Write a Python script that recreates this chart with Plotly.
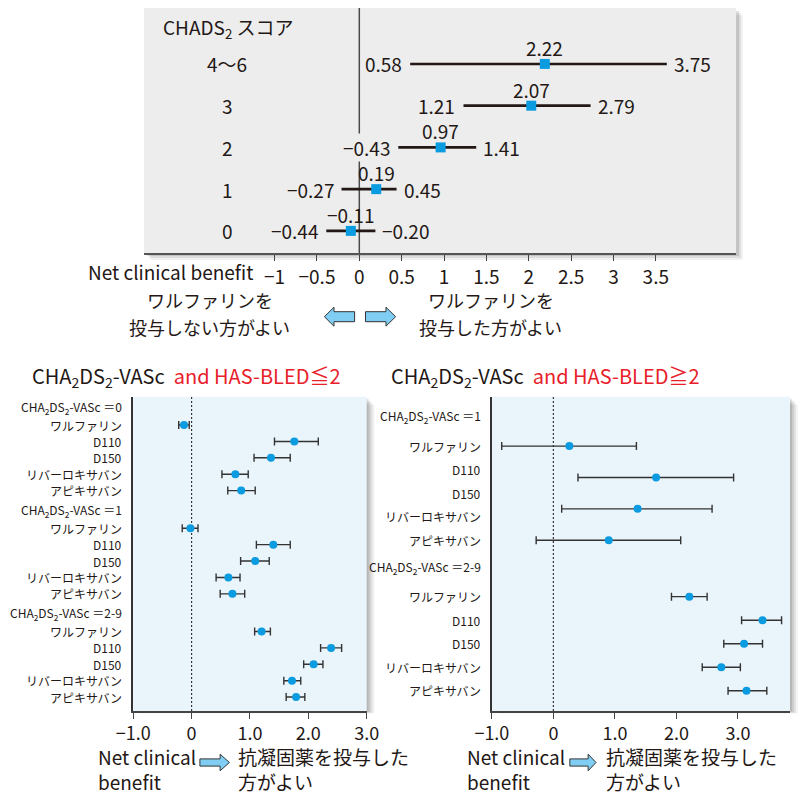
import plotly.graph_objects as go
import numpy as np

W, H = 803, 796
FONT = "Liberation Sans Narrow, Noto Sans CJK JP, sans-serif"
JFONT = "Noto Sans CJK JP, sans-serif"
DARK = "#231815"
RED = "#e8202a"
BLUE = "#0a9be0"

# ---------------- data: top panel (CHADS2 score) ----------------
chads_scores = ["4〜6", "3", "2", "1", "0"]
chads_point = [2.19, 2.03, 0.96, 0.20, -0.10]
chads_low = [0.60, 1.23, 0.46, -0.21, -0.39]
chads_high = [3.63, 2.73, 1.38, 0.44, 0.19]
chads_point_text = ["2.22", "2.07", "0.97", "0.19", "−0.11"]
chads_low_text = ["0.58", "1.21", "−0.43", "−0.27", "−0.44"]
chads_high_text = ["3.75", "2.79", "1.41", "0.45", "−0.20"]
top_tickvals = [-1, -0.5, 0, 0.5, 1, 1.5, 2, 2.5, 3, 3.5]
top_ticktext = ["−1", "−0.5", "0", "0.5", "1", "1.5", "2", "2.5", "3", "3.5"]

# ---------------- data: bottom panels ----------------
drugs = ["ワルファリン", "D110", "D150", "リバーロキサバン", "アピキサバン"]
left_groups = ["CHA<sub>2</sub>DS<sub>2</sub>-VASc ＝0",
               "CHA<sub>2</sub>DS<sub>2</sub>-VASc ＝1",
               "CHA<sub>2</sub>DS<sub>2</sub>-VASc ＝2-9"]
left_point = [[-0.13, 1.76, 1.36, 0.75, 0.85],
              [-0.02, 1.40, 1.09, 0.63, 0.70],
              [1.20, 2.39, 2.09, 1.72, 1.79]]
left_low = [[-0.22, 1.42, 1.07, 0.52, 0.62],
            [-0.16, 1.11, 0.84, 0.42, 0.49],
            [1.08, 2.21, 1.92, 1.58, 1.62]]
left_high = [[-0.04, 2.17, 1.69, 0.97, 1.09],
             [0.11, 1.69, 1.33, 0.83, 0.91],
             [1.35, 2.57, 2.25, 1.87, 1.94]]

right_groups = ["CHA<sub>2</sub>DS<sub>2</sub>-VASc ＝1",
                "CHA<sub>2</sub>DS<sub>2</sub>-VASc ＝2-9"]
right_point = [[0.26, 1.67, 1.37, 0.90],
               [2.21, 3.40, 3.10, 2.73, 3.14]]
right_low = [[-0.84, 0.40, 0.135, -0.28],
             [1.92, 3.06, 2.77, 2.42, 2.84]]
right_high = [[1.35, 2.93, 2.58, 2.07],
              [2.50, 3.71, 3.40, 3.04, 3.47]]

bottom_tickvals = [-1, 0, 1, 2, 3]
bottom_ticktext = ["−1.0", "0", "1.0", "2.0", "3.0"]


def px(x):
    return x / W


def py(y):
    return 1 - y / H


fig = go.Figure()
shapes = []
annotations = []

# ================= TOP PANEL =================
top_rows = list(range(len(chads_scores)))
fig.add_trace(go.Scatter(
    x=[v for lo, hi in zip(chads_low, chads_high) for v in (lo, hi, None)],
    y=[v for r in top_rows for v in (r, r, None)],
    mode="lines", line=dict(color=DARK, width=2.6),
    xaxis="x", yaxis="y", showlegend=False, hoverinfo="skip"))
fig.add_trace(go.Scatter(
    x=chads_point, y=top_rows, mode="markers",
    marker=dict(symbol="square", size=10, color=BLUE),
    xaxis="x", yaxis="y", showlegend=False))

# gray box background + shadow
for off, op in [(7, 0.06), (5, 0.08), (3, 0.12)]:
    shapes.append(dict(type="rect", xref="paper", yref="paper",
                       x0=px(132 + off), x1=px(747 + off), y0=py(253 + off), y1=py(8 + off),
                       fillcolor=f"rgba(0,0,0,{op})", line=dict(width=0), layer="below"))
shapes.append(dict(type="rect", xref="x domain", yref="y domain", x0=0, x1=1, y0=0, y1=1,
                   fillcolor="#ededed", line=dict(width=0), layer="below"))
shapes.append(dict(type="line", xref="x", yref="y domain", x0=0, x1=0, y0=0, y1=1,
                   line=dict(color="#4a4a4a", width=1.5), layer="below"))

for r, lab in zip(top_rows, chads_scores):
    annotations.append(dict(xref="x", yref="y", x=-1.56, y=r, text=lab, showarrow=False,
                            xanchor="center", yanchor="middle",
                            font=dict(family=FONT, size=19, color=DARK)))
annotations.append(dict(xref="paper", yref="paper", x=px(150), y=py(28),
                        text="CHADS<sub>2</sub> スコア", showarrow=False,
                        xanchor="left", yanchor="middle",
                        font=dict(family=FONT, size=19, color=DARK)))
for r in top_rows:
    annotations.append(dict(xref="x", yref="y", x=chads_low[r], y=r, text=chads_low_text[r],
                            showarrow=False, xanchor="right", yanchor="middle", xshift=-7,
                            bgcolor="#ededed", borderpad=0,
                            font=dict(family=FONT, size=19, color=DARK)))
    annotations.append(dict(xref="x", yref="y", x=chads_high[r], y=r, text=chads_high_text[r],
                            showarrow=False, xanchor="left", yanchor="middle", xshift=6,
                            bgcolor="#ededed", borderpad=0,
                            font=dict(family=FONT, size=19, color=DARK)))
    annotations.append(dict(xref="x", yref="y", x=chads_point[r], y=r, text=chads_point_text[r],
                            showarrow=False, xanchor="center", yanchor="bottom", yshift=1,
                            font=dict(family=FONT, size=19, color=DARK)))

annotations.append(dict(xref="paper", yref="paper", x=px(72), y=py(272), text="Net clinical benefit",
                        showarrow=False, xanchor="left", yanchor="middle",
                        font=dict(family=FONT, size=19, color=DARK)))
for xc, lines in [(200, ["ワルファリンを", "投与しない方がよい"]),
                  (492, ["ワルファリンを", "投与した方がよい"])]:
    for yc, line in zip([300.5, 326.5], lines):
        annotations.append(dict(xref="paper", yref="paper", x=px(xc), y=py(yc),
                                text=line, showarrow=False,
                                xanchor="center", yanchor="middle", borderpad=0,
                                font=dict(family=JFONT, size=18, color=DARK)))


def arrow(x_tail, x_head_base, x_tip, yc, bh, hh):
    pts = [(x_tail, yc - bh), (x_head_base, yc - bh), (x_head_base, yc - hh), (x_tip, yc),
           (x_head_base, yc + hh), (x_head_base, yc + bh), (x_tail, yc + bh)]
    path = "M " + " L ".join(f"{px(a):.5f},{py(b):.5f}" for a, b in pts) + " Z"
    return dict(type="path", xref="paper", yref="paper", path=path,
                fillcolor="#80cdf3", line=dict(color="#333333", width=1))


shapes.append(arrow(350.7, 329.3, 319.3, 316.7, 5, 9.5))
shapes.append(arrow(362, 383.3, 393.3, 316.7, 5, 9.5))
shapes.append(arrow(190, 211, 220.7, 762.5, 3.6, 8.3))
shapes.append(arrow(574.3, 593.3, 601.5, 762.5, 3.6, 8.3))


# ================= BOTTOM PANELS =================
def layout_positions(n_items_per_group, head_gap, tail_gap):
    header_pos, item_pos = [], []
    p = 0.0
    for gi, n in enumerate(n_items_per_group):
        if gi > 0:
            p += tail_gap
        header_pos.append(p)
        p += head_gap
        items = []
        for k in range(n):
            if k > 0:
                p += 1
            items.append(p)
        item_pos.append(items)
    return header_pos, item_pos


def add_panel(xa, ya, groups, points, lows, highs, head_gap, tail_gap):
    hp, ip = layout_positions([len(drugs)] * len(groups), head_gap, tail_gap)
    for g in range(len(groups)):
        labels_y = ip[g]
        n = len(points[g])
        if n == len(labels_y):
            ys = labels_y
        else:
            ys = list(np.linspace(labels_y[0], labels_y[-1], n))
        pts = np.array(points[g])
        fig.add_trace(go.Scatter(
            x=points[g], y=ys, mode="markers",
            marker=dict(size=8, color=BLUE),
            error_x=dict(type="data", symmetric=False,
                         array=list(np.array(highs[g]) - pts),
                         arrayminus=list(pts - np.array(lows[g])),
                         color="#333333", thickness=1.4, width=4),
            xaxis=xa, yaxis=ya, showlegend=False))
        annotations.append(dict(xref=f"{xa} domain", yref=ya, x=0, y=hp[g], text=groups[g],
                                showarrow=False, xanchor="right", yanchor="middle", xshift=-9,
                                font=dict(family=FONT, size=12, color=DARK)))
        for dname, yy in zip(drugs, labels_y):
            annotations.append(dict(xref=f"{xa} domain", yref=ya, x=0, y=yy, text=dname,
                                    showarrow=False, xanchor="right", yanchor="middle", xshift=-9,
                                    font=dict(family=FONT, size=12, color=DARK)))


add_panel("x2", "y2", left_groups, left_point, left_low, left_high, 1.1, 1.2)
add_panel("x3", "y3", right_groups, right_point, right_low, right_high, 1.25, 1.15)

# backgrounds + shadows for bottom panels
for (x0, x1) in [(120.7, 363.3), (493.3, 803)]:
    for off, op in [(8, 0.05), (6, 0.07), (4, 0.09), (2, 0.1)]:
        shapes.append(dict(type="rect", xref="paper", yref="paper",
                           x0=px(x0 + off), x1=px(x1 + off), y0=py(711 + off * 0.3), y1=py(396.7 + off),
                           fillcolor=f"rgba(0,0,0,{op})", line=dict(width=0), layer="below"))
for xa, ya in [("x2", "y2"), ("x3", "y3")]:
    shapes.append(dict(type="rect", xref=f"{xa} domain", yref=f"{ya} domain", x0=0, x1=1, y0=0, y1=1,
                       fillcolor="#eaf4fb", line=dict(width=0), layer="below"))
    shapes.append(dict(type="line", xref=xa, yref=f"{ya} domain", x0=0, x1=0, y0=0, y1=1,
                       line=dict(color="#333333", width=1.2, dash="2px,2px"), layer="below"))

# titles
annotations.append(dict(xref="paper", yref="paper", x=px(14), y=py(376),
                        text=f"CHA<sub>2</sub>DS<sub>2</sub>-VASc  <span style='color:{RED}'>and HAS-BLED≦2</span>",
                        showarrow=False, xanchor="left", yanchor="middle",
                        font=dict(family=FONT, size=20, color=DARK)))
annotations.append(dict(xref="paper", yref="paper", x=px(386), y=py(376),
                        text=f"CHA<sub>2</sub>DS<sub>2</sub>-VASc  <span style='color:{RED}'>and HAS-BLED≧2</span>",
                        showarrow=False, xanchor="left", yanchor="middle",
                        font=dict(family=FONT, size=20, color=DARK)))
for xl, xr in [(83, 229), (466, 611)]:
    annotations.append(dict(xref="paper", yref="paper", x=px(xl), y=py(795.8),
                            text="Net clinical<br>benefit", showarrow=False,
                            xanchor="left", yanchor="bottom", align="left", borderpad=0,
                            font=dict(family=FONT, size=19, color=DARK)))
    annotations.append(dict(xref="paper", yref="paper", x=px(xr), y=py(795.8),
                            text="抗凝固薬を投与した<br>方がよい", showarrow=False,
                            xanchor="left", yanchor="bottom", align="left", borderpad=0,
                            font=dict(family=JFONT, size=19, color=DARK)))

axis_common = dict(showgrid=False, zeroline=False)

fig.update_layout(
    width=W, height=H, margin=dict(l=0, r=0, t=0, b=0),
    paper_bgcolor="white", plot_bgcolor="rgba(0,0,0,0)",
    font=dict(family=FONT, color=DARK),
    xaxis=dict(domain=[px(132), px(747)], range=[-2.541, 4.448], anchor="y",
               tickvals=top_tickvals, ticktext=top_ticktext,
               tickfont=dict(family=FONT, size=19, color=DARK),
               showline=True, linecolor="#555555", linewidth=1.5,
               ticks="outside", ticklen=6, tickcolor="#444444", tickwidth=1.2, **axis_common),
    yaxis=dict(domain=[py(253), py(8)], range=[4.53, -1.34], anchor="x",
               showticklabels=False, showline=False, **axis_common),
    xaxis2=dict(domain=[px(120.7), px(363.3)], range=[-1, 3], anchor="y2",
                tickvals=bottom_tickvals, ticktext=bottom_ticktext,
                tickfont=dict(family=FONT, size=18, color=DARK),
                showline=True, linecolor="#444444", linewidth=1.5,
                ticks="outside", ticklen=6, tickcolor="#444444", tickwidth=1.2, **axis_common),
    yaxis2=dict(domain=[py(711), py(396.7)], range=[18.55, -0.63], anchor="x2",
                showticklabels=False, showline=True, linecolor="#333333", linewidth=1.8,
                **axis_common),
    xaxis3=dict(domain=[px(493.3), 1.0], range=[-1, 3.847], anchor="y3",
                tickvals=bottom_tickvals, ticktext=bottom_ticktext,
                tickfont=dict(family=FONT, size=18, color=DARK),
                showline=True, linecolor="#444444", linewidth=1.5,
                ticks="outside", ticklen=6, tickcolor="#444444", tickwidth=1.2, **axis_common),
    yaxis3=dict(domain=[py(711), py(396.7)], range=[12.51, -0.85], anchor="x3",
                showticklabels=False, showline=True, linecolor="#333333", linewidth=1.8,
                **axis_common),
    shapes=shapes, annotations=annotations,
)

fig.write_html("out.html", config={"displayModeBar": False},
               post_script="document.body.style.margin='0';document.body.style.overflow='hidden';")
